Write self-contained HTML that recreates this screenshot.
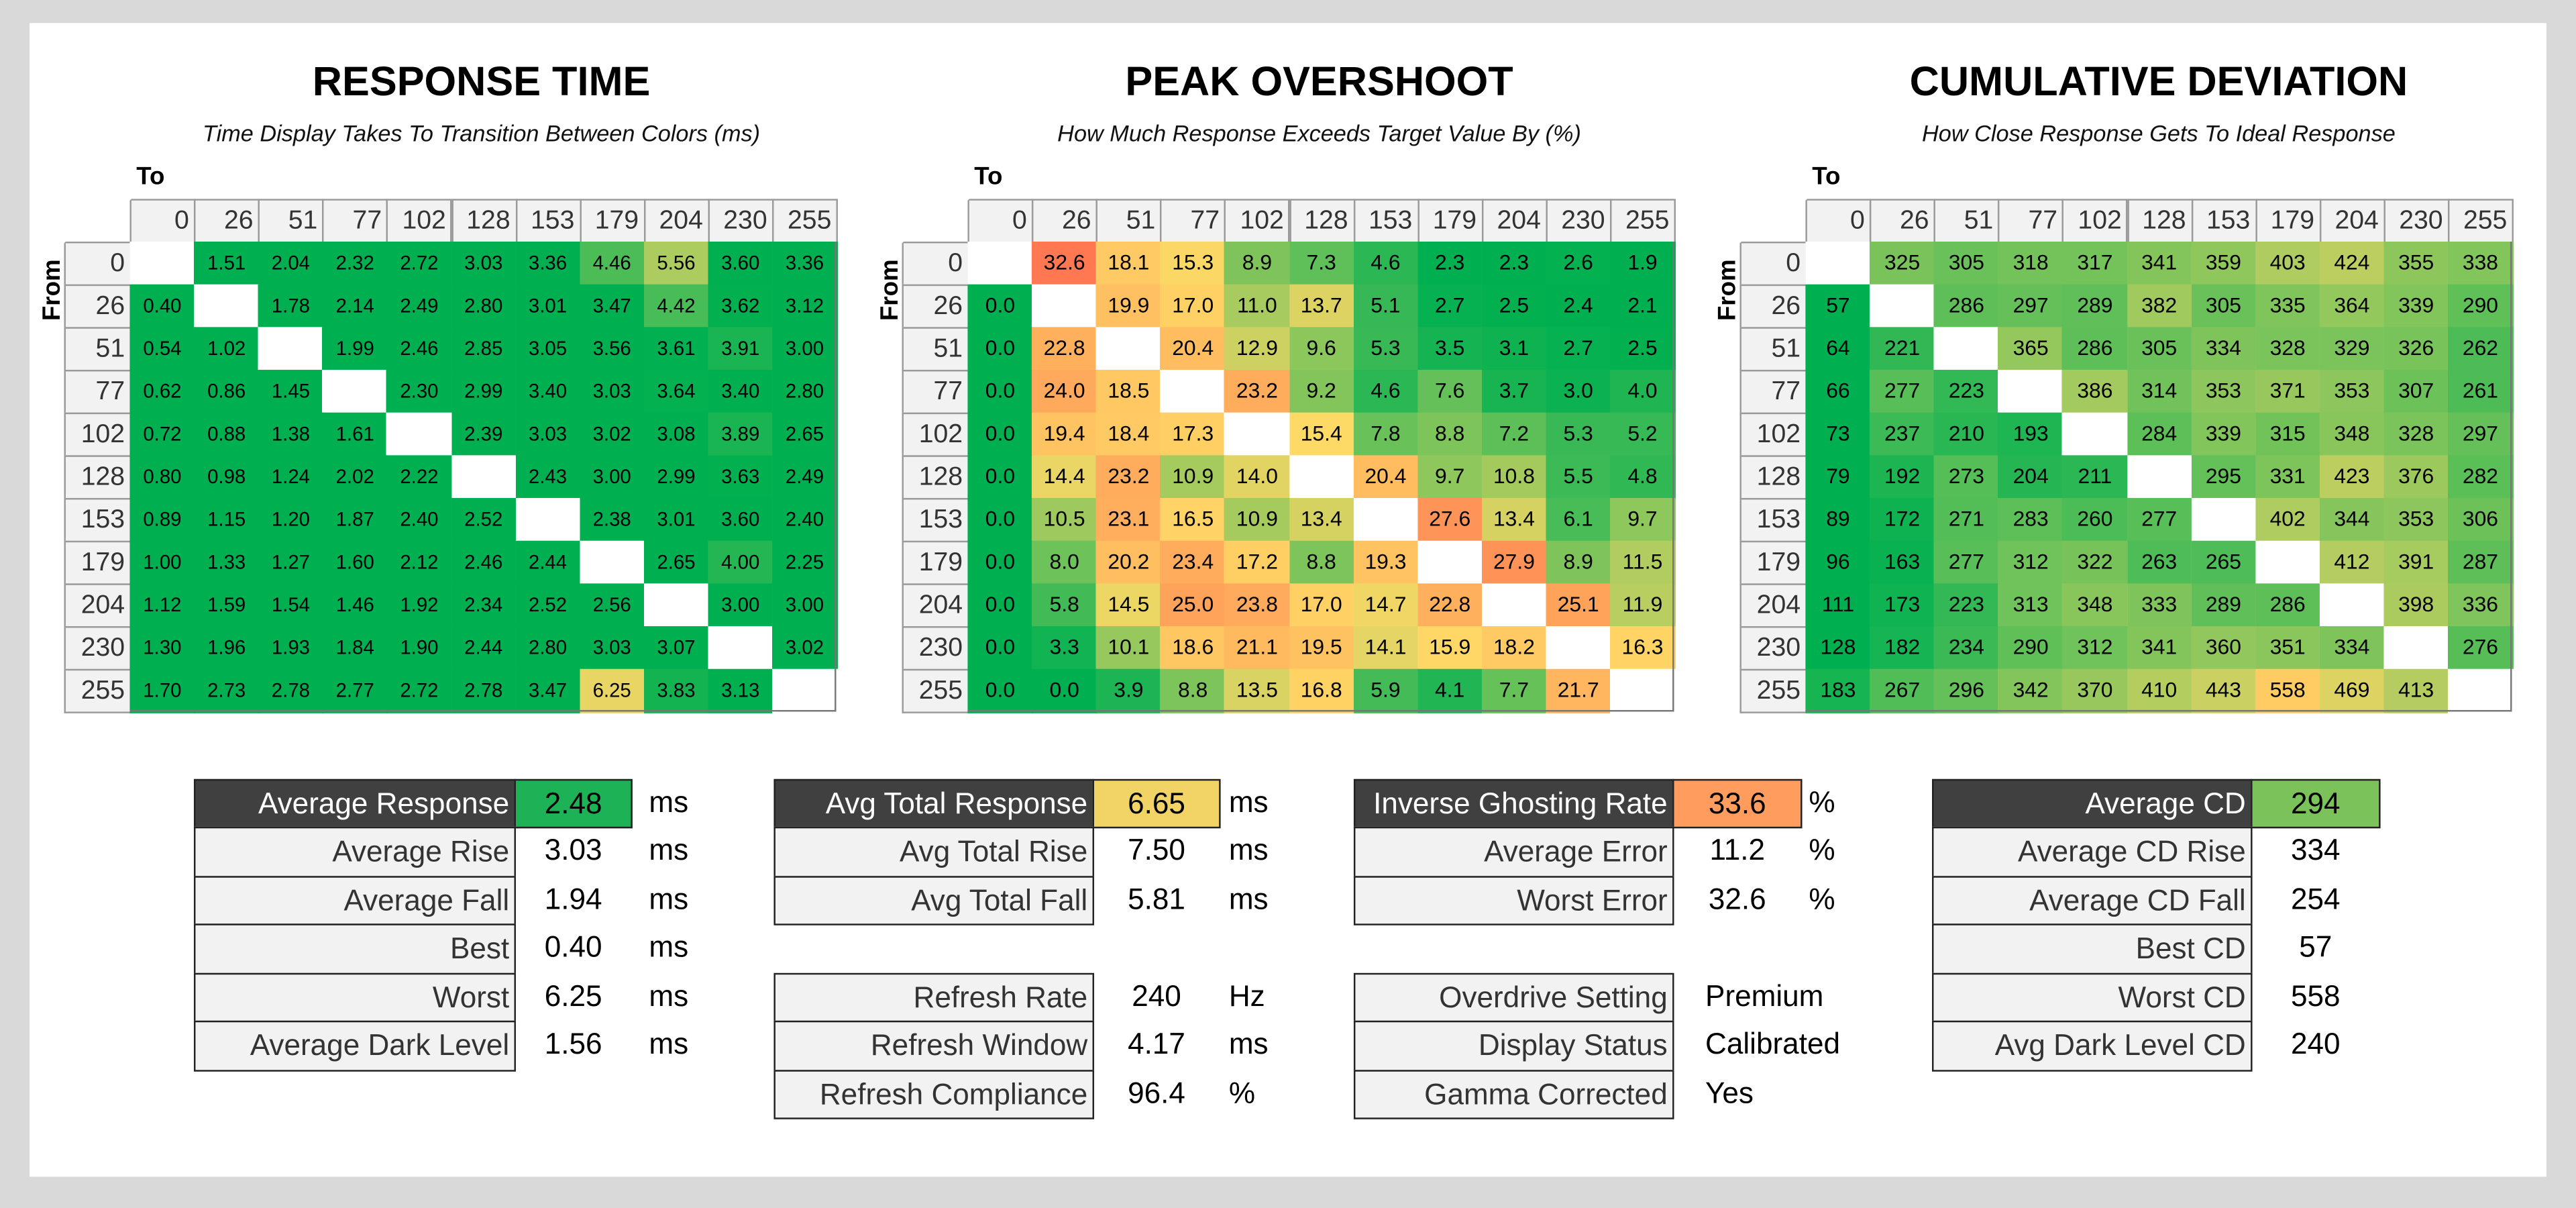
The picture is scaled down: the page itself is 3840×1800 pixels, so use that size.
<!DOCTYPE html>
<html><head><meta charset="utf-8">
<style>
html,body{margin:0;padding:0;background:#d9d9d9;overflow:hidden}
#root{position:absolute;left:0;top:0;width:1568px;height:735px;transform:scale(2.44898);transform-origin:0 0;background:#d9d9d9;font-family:"Liberation Sans Narrow","Liberation Sans",sans-serif}
#panel{position:absolute;left:18px;top:14px;width:1532px;height:702px;background:#fff}
.abs{position:absolute}
.title{position:absolute;font-family:"Liberation Sans",sans-serif;font-weight:bold;font-size:25px;text-align:center;width:440px;color:#000}
.sub{position:absolute;font-style:italic;font-size:14px;text-align:center;width:440px;color:#111}
.hc{position:absolute;background:#f2f2f2;border:1px solid #9a9a9a;box-sizing:border-box;font-size:16px;color:#333;text-align:right;padding-right:3px}
.dc{position:absolute;box-sizing:border-box;text-align:center;color:#000}
.lab{position:absolute;box-sizing:border-box;background:#f2f2f2;border:1px solid #222;text-align:right;padding-right:3px;font-size:18px;color:#333;line-height:28px}
.lab.dark{background:#404040;color:#fff}
.val{position:absolute;box-sizing:border-box;text-align:center;font-size:18px;line-height:28px;color:#000}
.unit{position:absolute;font-size:18px;line-height:28px;color:#000}
</style></head><body>
<div id="root">
<div id="panel"></div>
<div class="title" style="left:73px;top:36px">RESPONSE TIME</div>
<div class="sub" style="left:73px;top:73px">Time Display Takes To Transition Between Colors (ms)</div>
<div class="title" style="left:583px;top:36px">PEAK OVERSHOOT</div>
<div class="sub" style="left:583px;top:73px">How Much Response Exceeds Target Value By (%)</div>
<div class="title" style="left:1094px;top:36px">CUMULATIVE DEVIATION</div>
<div class="sub" style="left:1094px;top:73px">How Close Response Gets To Ideal Response</div>
<div id="tables"></div>
<div id="stats"></div>
</div>
<script>
const levels = [0,26,51,77,102,128,153,179,204,230,255];
const rtValues = [
[null,1.51,2.04,2.32,2.72,3.03,3.36,4.46,5.56,3.60,3.36],
[0.40,null,1.78,2.14,2.49,2.80,3.01,3.47,4.42,3.62,3.12],
[0.54,1.02,null,1.99,2.46,2.85,3.05,3.56,3.61,3.91,3.00],
[0.62,0.86,1.45,null,2.30,2.99,3.40,3.03,3.64,3.40,2.80],
[0.72,0.88,1.38,1.61,null,2.39,3.03,3.02,3.08,3.89,2.65],
[0.80,0.98,1.24,2.02,2.22,null,2.43,3.00,2.99,3.63,2.49],
[0.89,1.15,1.20,1.87,2.40,2.52,null,2.38,3.01,3.60,2.40],
[1.00,1.33,1.27,1.60,2.12,2.46,2.44,null,2.65,4.00,2.25],
[1.12,1.59,1.54,1.46,1.92,2.34,2.52,2.56,null,3.00,3.00],
[1.30,1.96,1.93,1.84,1.90,2.44,2.80,3.03,3.07,null,3.02],
[1.70,2.73,2.78,2.77,2.72,2.78,3.47,6.25,3.83,3.13,null]];
const osValues = [
[null,32.6,18.1,15.3,8.9,7.3,4.6,2.3,2.3,2.6,1.9],
[0.0,null,19.9,17.0,11.0,13.7,5.1,2.7,2.5,2.4,2.1],
[0.0,22.8,null,20.4,12.9,9.6,5.3,3.5,3.1,2.7,2.5],
[0.0,24.0,18.5,null,23.2,9.2,4.6,7.6,3.7,3.0,4.0],
[0.0,19.4,18.4,17.3,null,15.4,7.8,8.8,7.2,5.3,5.2],
[0.0,14.4,23.2,10.9,14.0,null,20.4,9.7,10.8,5.5,4.8],
[0.0,10.5,23.1,16.5,10.9,13.4,null,27.6,13.4,6.1,9.7],
[0.0,8.0,20.2,23.4,17.2,8.8,19.3,null,27.9,8.9,11.5],
[0.0,5.8,14.5,25.0,23.8,17.0,14.7,22.8,null,25.1,11.9],
[0.0,3.3,10.1,18.6,21.1,19.5,14.1,15.9,18.2,null,16.3],
[0.0,0.0,3.9,8.8,13.5,16.8,5.9,4.1,7.7,21.7,null]];
const cdValues = [
[null,325,305,318,317,341,359,403,424,355,338],
[57,null,286,297,289,382,305,335,364,339,290],
[64,221,null,365,286,305,334,328,329,326,262],
[66,277,223,null,386,314,353,371,353,307,261],
[73,237,210,193,null,284,339,315,348,328,297],
[79,192,273,204,211,null,295,331,423,376,282],
[89,172,271,283,260,277,null,402,344,353,306],
[96,163,277,312,322,263,265,null,412,391,287],
[111,173,223,313,348,333,289,286,null,398,336],
[128,182,234,290,312,341,360,351,334,null,276],
[183,267,296,342,370,410,443,558,469,413,null]];

const G=[0,176,80],Y=[255,217,102],R=[255,112,80];
function mix(a,b,t){t=Math.max(0,Math.min(1,t));return 'rgb('+a.map((v,i)=>Math.round(v+(b[i]-v)*t)).join(',')+')';}
function scale3(v,g,y,r){return v<=y?mix(G,Y,(v-g)/(y-g)):mix(Y,R,(v-y)/(r-y));}

const tables=document.getElementById('tables');
function buildTable(name,vals,left,fmt,stops,fs){
  const cw=39.1,ch=26,top=121;
  const t=document.createElement('div');
  
  
  tables.appendChild(t);
  const to=document.createElement('div');to.className='abs';to.style.cssText='left:'+(left+44)+'px;top:99px;font-size:15px;font-weight:bold';to.textContent='To';
  
  
  t.appendChild(to);
  const fr=document.createElement('div');fr.className='abs';fr.style.cssText='left:'+(left-26)+'px;top:168px;font-size:15px;font-weight:bold;transform:rotate(-90deg);transform-origin:center';fr.textContent='From';
  
  
  t.appendChild(fr);
  levels.forEach((l,i)=>{
    const h=document.createElement('div');h.className='hc';
    h.style.cssText='left:'+(left+40+i*cw)+'px;top:'+top+'px;width:'+(cw+1)+'px;height:'+(ch+1)+'px;line-height:'+ch+'px';
    h.textContent=l;
    
    
    t.appendChild(h);
    const r=document.createElement('div');r.className='hc';
    r.style.cssText='left:'+left+'px;top:'+(top+ch+i*ch)+'px;width:41px;height:'+(ch+1)+'px;line-height:'+ch+'px';
    r.textContent=l;
    
    
    t.appendChild(r);
  });
  const corner=document.createElement('div');corner.className='hc';corner.style.cssText='left:'+left+'px;top:'+top+'px;width:41px;height:27px;background:#fff;border-color:#fff #9a9a9a #9a9a9a #fff';t.appendChild(corner);
  vals.forEach((row,ri)=>row.forEach((v,ci)=>{
    const c=document.createElement('div');c.className='dc';
    c.style.cssText='left:'+(left+40+ci*cw)+'px;top:'+(top+ch+ri*ch)+'px;width:'+(cw+0.5)+'px;height:'+(ch+0.5)+'px;line-height:'+ch+'px;font-size:'+fs+'px;background:'+(v===null?'#fff':scale3(v,stops[0],stops[1],stops[2]));
    c.textContent=v===null?'':fmt(v);
    
    
    t.appendChild(c);
  }));
  const b=document.createElement('div');b.className='abs';
  b.style.cssText='left:'+(left+40)+'px;top:'+(top+ch)+'px;width:'+(11*cw)+'px;height:'+(11*ch)+'px;border:1px solid #777;border-top:none;box-sizing:border-box;border-left:none';
  t.appendChild(b);
}
buildTable('response-time',rtValues,39,v=>v.toFixed(2),[3.6,6.5,10],12);
buildTable('peak-overshoot',osValues,549,v=>v.toFixed(1),[2.4,15.5,34],13);
buildTable('cumulative-deviation',cdValues,1059,v=>String(v),[150,520,800],13);

const statLabels1=['Average Response','Average Rise','Average Fall','Best','Worst','Average Dark Level'];
const statValues1=['2.48','3.03','1.94','0.40','6.25','1.56'];
const statLabels2=['Avg Total Response','Avg Total Rise','Avg Total Fall',null,'Refresh Rate','Refresh Window','Refresh Compliance'];
const statValues2=['6.65','7.50','5.81',null,'240','4.17','96.4'];
const statUnits2=['ms','ms','ms',null,'Hz','ms','%'];
const statLabels3=['Inverse Ghosting Rate','Average Error','Worst Error',null,'Overdrive Setting','Display Status','Gamma Corrected'];
const statValues3=['33.6','11.2','32.6',null,'Premium','Calibrated','Yes'];
const statUnits3=['%','%','%',null,'','',''];
const statLabels4=['Average CD','Average CD Rise','Average CD Fall','Best CD','Worst CD','Avg Dark Level CD'];
const statValues4=['294','334','254','57','558','240'];
const stats=document.getElementById('stats');
const rowTop=474,rowH=29.45;
function block(name,labels,values,units,lx,lw,vw,ux,hiColor,leftVal){
  labels.forEach((lab,i)=>{
    if(lab===null)return;
    const y=rowTop+i*rowH;
    const l=document.createElement('div');l.className='lab'+(i===0?' dark':'');
    l.style.cssText='left:'+lx+'px;top:'+y+'px;width:'+lw+'px;height:'+(rowH+1)+'px';
    l.textContent=lab;
    
    
    stats.appendChild(l);
    const v=document.createElement('div');v.className='val';
    v.style.cssText='left:'+(lx+lw-1)+'px;top:'+y+'px;width:'+vw+'px;height:'+(rowH+1)+'px'+(i===0?';border:1px solid #222;background:'+hiColor:'')+(leftVal&&i>3?';text-align:left;padding-left:20px':'');
    v.textContent=values[i];
    
    
    stats.appendChild(v);
    if(units&&units[i]){
      const u=document.createElement('div');u.className='unit';
      u.style.cssText='left:'+ux+'px;top:'+y+'px';
      u.textContent=units[i];
      
      
      stats.appendChild(u);
    }
  });
}
block('response-stats',statLabels1,statValues1,['ms','ms','ms','ms','ms','ms'],118,196,72,395,'#1db255');
block('overshoot-total-stats',statLabels2,statValues2,statUnits2,471,195,78,748,'#f2d466');
block('ghosting-stats',statLabels3,statValues3,statUnits3,824,195,79,1101,'#ff9c5e',true);
block('cd-stats',statLabels4,statValues4,null,1176,195,79,0,'#7cc25a');
</script>
</body></html>
